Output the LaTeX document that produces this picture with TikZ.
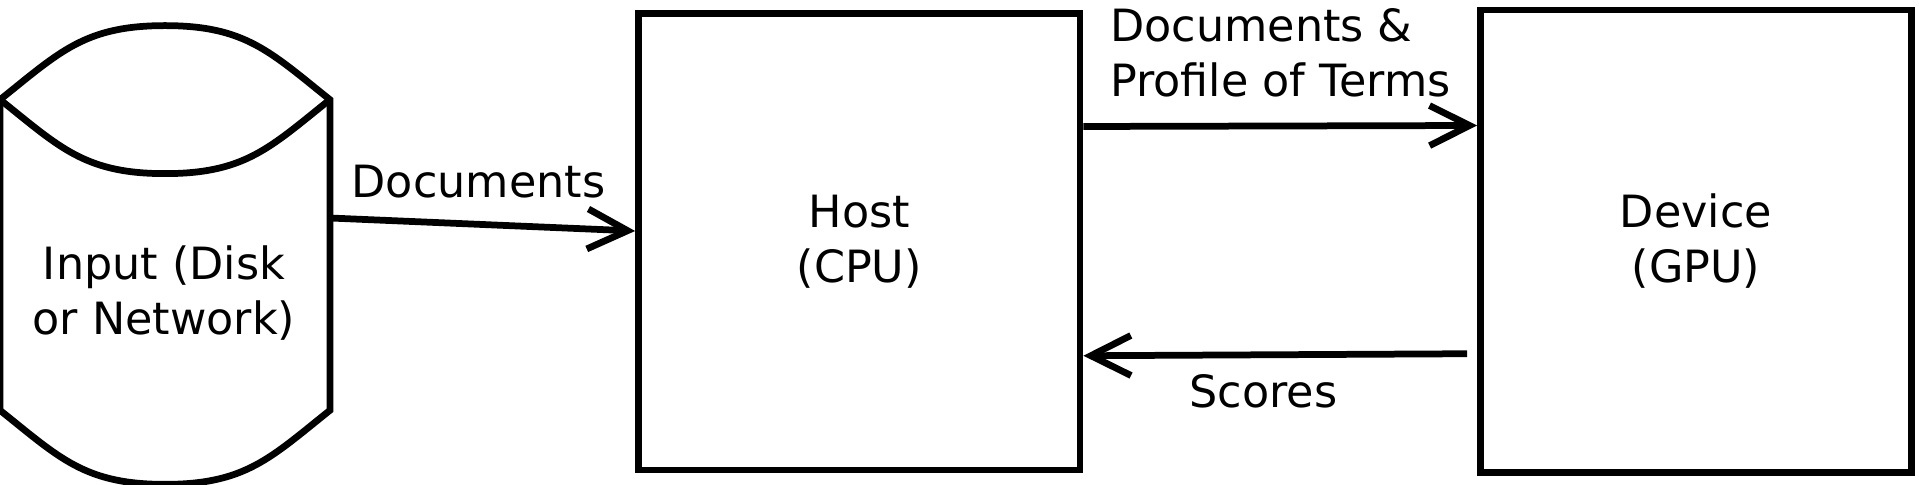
\documentclass[tikz,border=0pt]{standalone}
\usepackage{fontspec}
\setmainfont{DejaVu Sans}
\usepackage{tikz}
\usetikzlibrary{arrows.meta, positioning}

\begin{document}
\begin{tikzpicture}[
          unit/.style={
              draw=black,
              line width=0.135cm,
              minimum width=8.8cm,
              minimum height=9.2cm,
              font=\fontsize{25.3pt}{31.3pt}\selectfont,
              align=center
            },
          store/.style={
              line width=0.135cm,
              minimum width=6.46cm,
              minimum height=6.08cm
            },
          outline/.style={line width=0.135cm, line join=miter},
          txt/.style={font=\fontsize{25.3pt}{31.3pt}\selectfont, inner sep=0pt},
          arr/.style={-{Straight Barb[length=0.8cm, width=0.8cm]}, line width=0.135cm}
        ]
        \useasboundingbox (0,0) rectangle (38.38,9.7);

        % input store drawn as a cylinder
        \node[store] (input) at (3.3,4.6) {};
        \draw[outline] (input.north west) -- (input.south west)
            .. controls +(1.2,-0.96) and +(-1.6,0) .. ([yshift=-1.48cm]input.south)
            .. controls +(1.6,0) and +(-1.2,-0.96) .. (input.south east)
            -- (input.north east)
            .. controls +(-1.2,0.96) and +(1.6,0) .. ([yshift=1.48cm]input.north)
            .. controls +(-1.6,0) and +(1.2,0.96) .. (input.north west) -- cycle;
        \draw[outline] (input.north west)
            .. controls +(1.2,-0.96) and +(-1.6,0) .. ([yshift=-1.48cm]input.north)
            .. controls +(1.6,0) and +(-1.2,-0.96) .. (input.north east);
        \node[txt, align=center] (input_txt) at (3.28,3.83) {Input (Disk\\or Network)};

        \node[unit, minimum width=8.83cm, minimum height=9.13cm] (host) at (17.185,4.865) {Host\\(CPU)};
        \node[unit, minimum width=8.62cm, minimum height=9.25cm] (device) at (33.92,4.875) {Device\\(GPU)};

        \draw[arr] ([yshift=0.74cm]input.east) -- ([yshift=0.215cm]host.west);
        \node[txt, anchor=base] (docs_lbl) at (9.57,5.74) {Documents};

        \draw[arr] ([yshift=2.305cm]host.east) -- ([yshift=2.315cm]device.west);
        \node[txt, anchor=base west, align=left] (send_lbl) at (22.2,7.76) {Documents \&\\Profile of Terms};

        \draw[arr] ([xshift=-0.2cm, yshift=-2.25cm]device.west) -- ([yshift=-2.28cm]host.east);
        \node[txt, anchor=base] (scores_lbl) at (25.27,1.54) {Scores};
      \end{tikzpicture}
\end{document}
